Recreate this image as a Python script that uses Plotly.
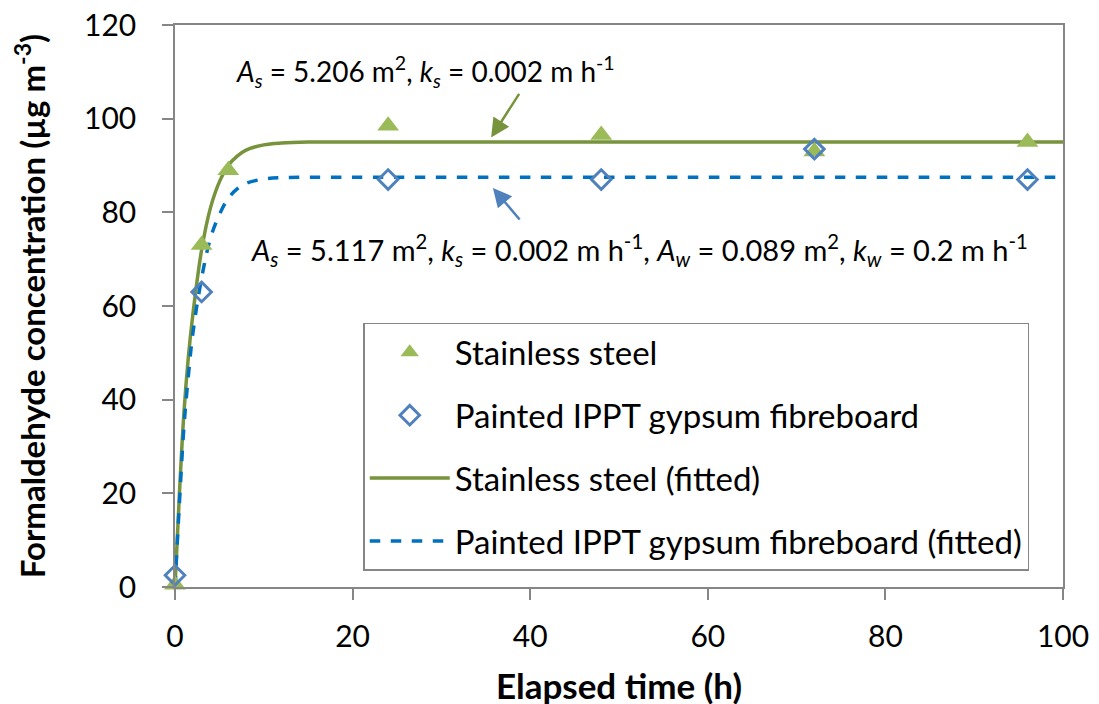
import plotly.graph_objects as go

# Measured data
t_steel = [0, 3, 6, 24, 48, 72, 96]
c_steel = [0.5, 73, 89, 98.5, 96.5, 93, 95]
t_gyp = [0, 3, 24, 48, 72, 96]
c_gyp = [2.5, 63, 87, 87, 93.5, 87]

# Fitted curves
t_fit = [0, 0.5, 1, 1.5, 2, 3, 4, 5, 6, 7, 8, 10, 12, 15, 20, 30, 50, 75, 100]
c_fit_steel = [0, 20, 37, 49, 58, 72, 81, 86.5, 90, 92, 93.3, 94.4, 94.8, 95, 95, 95, 95, 95, 95]
c_fit_gyp = [0, 18, 34, 45, 54, 66, 74.5, 79.5, 83, 85, 86.2, 87.1, 87.4, 87.5, 87.5, 87.5, 87.5, 87.5, 87.5]

FONT = "Lato"
AX = "#868686"

fig = go.Figure()
fig.add_trace(go.Scatter(x=t_fit, y=c_fit_steel, mode="lines", name="Stainless steel (fitted)",
                         line=dict(color="#77933C", width=3.5, shape="spline"),
                         legendgroup="c", legendrank=3))
fig.add_trace(go.Scatter(x=t_fit, y=c_fit_gyp, mode="lines", name="Painted IPPT gypsum fibreboard (fitted)",
                         line=dict(color="#0070C0", width=3.5, dash="dash", shape="spline"),
                         legendgroup="d", legendrank=4))
fig.add_trace(go.Scatter(x=t_steel, y=c_steel, mode="markers", name="Stainless steel",
                         marker=dict(symbol="triangle-up", size=19, color="#9BBB59"),
                         cliponaxis=False, legendgroup="a", legendrank=1))
fig.add_trace(go.Scatter(x=t_gyp, y=c_gyp, mode="markers", name="Painted IPPT gypsum fibreboard",
                         marker=dict(symbol="diamond-open", size=15, color="#4F81BD",
                                     line=dict(width=3, color="#4F81BD")),
                         cliponaxis=False, legendgroup="b", legendrank=2))

fig.update_layout(
    width=1099, height=704,
    margin=dict(l=167, r=44, t=17, b=125),
    paper_bgcolor="white", plot_bgcolor="white",
    font=dict(family=FONT, size=24, color="black"),
    showlegend=True,
    legend=dict(x=0.212, y=0.47, xanchor="left", yanchor="top",
                bordercolor=AX, borderwidth=1.5, bgcolor="white",
                font=dict(size=33), tracegroupgap=17, traceorder="grouped",
                itemwidth=80),
    xaxis=dict(range=[0, 100], tickvals=[0, 20, 40, 60, 80, 100],
               showline=True, linecolor=AX, linewidth=1.5, mirror=True,
               ticks="outside", ticklen=11, tickcolor=AX, tickwidth=1.5,
               showgrid=False, zeroline=False, automargin=False,
               ticklabelstandoff=11, ticklabeloverflow="allow",
               title=dict(text="<b>Elapsed time (h)</b>", font=dict(size=35), standoff=23),
               tickfont=dict(size=30)),
    yaxis=dict(range=[0, 120], tickvals=[0, 20, 40, 60, 80, 100, 120],
               showline=True, linecolor=AX, linewidth=1.5, mirror=True,
               ticks="outside", ticklen=11, tickcolor=AX, tickwidth=1.5,
               showgrid=False, zeroline=False, automargin=False,
               ticklabelstandoff=20, ticklabeloverflow="allow",
               title=dict(text="<b>Formaldehyde concentration (µg m<sup>-3</sup>)</b>",
                          font=dict(size=33), standoff=30),
               tickfont=dict(size=30)),
)

fig.add_annotation(x=28.2, y=110, xref="x", yref="y", showarrow=False,
                   text="<i>A<sub>s</sub></i> = 5.206 m<sup>2</sup>, <i>k<sub>s</sub></i> = 0.002 m h<sup>-1</sup>",
                   font=dict(size=28))
fig.add_annotation(x=52.3, y=72, xref="x", yref="y", showarrow=False,
                   text="<i>A<sub>s</sub></i> = 5.117 m<sup>2</sup>, <i>k<sub>s</sub></i> = 0.002 m h<sup>-1</sup>, "
                        "<i>A<sub>w</sub></i> = 0.089 m<sup>2</sup>, <i>k<sub>w</sub></i> = 0.2 m h<sup>-1</sup>",
                   font=dict(size=29))
fig.add_annotation(x=35.6, y=96, xref="x", yref="y", text="", showarrow=True,
                   ax=29, ay=-45, arrowhead=2, arrowsize=1.5, arrowwidth=2.5, arrowcolor="#77933C")
fig.add_annotation(x=35.8, y=85.2, xref="x", yref="y", text="", showarrow=True,
                   ax=28, ay=33, arrowhead=2, arrowsize=1.5, arrowwidth=2.5, arrowcolor="#4F81BD")

fig.write_html("out.html")
